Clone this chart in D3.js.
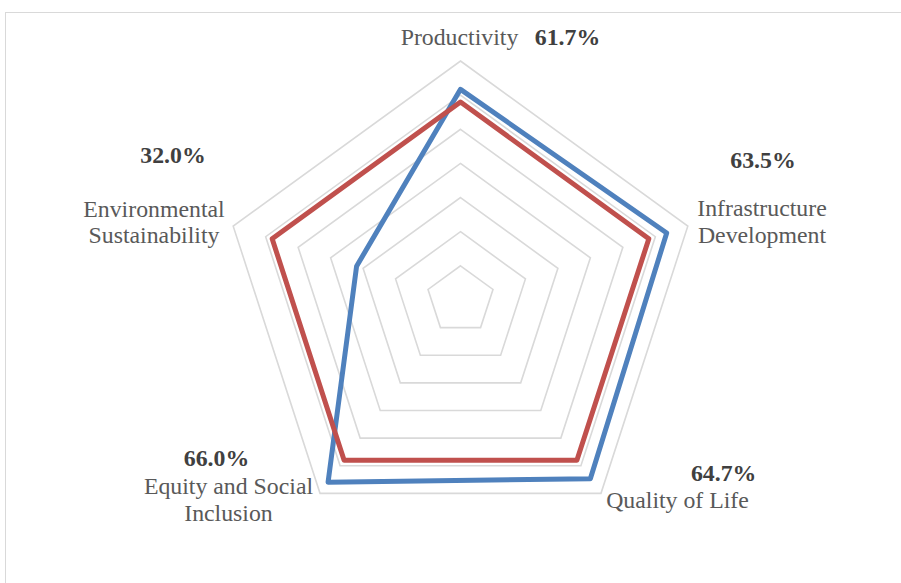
<!DOCTYPE html>
<html>
<head>
<meta charset="utf-8">
<script src="https://cdn.jsdelivr.net/npm/d3@7"></script>
<style>
  html, body { margin: 0; padding: 0; background: #fff; }
  svg { display: block; }
</style>
</head>
<body>
<svg id="chart" width="901" height="583"></svg>
<script>
// ---- data ----
const categories = ["Productivity", "Infrastructure Development", "Quality of Life", "Equity and Social Inclusion", "Environmental Sustainability"];
const seriesBlue = [0.617, 0.635, 0.647, 0.660, 0.320];
const seriesRed  = [0.580, 0.580, 0.580, 0.580, 0.580];
const valueLabels = ["61.7%", "63.5%", "64.7%", "66.0%", "32.0%"];
const gridLevels = [0.1, 0.2, 0.3, 0.4, 0.5, 0.6, 0.7];

// ---- layout ----
const svg = d3.select("#chart");
const cx = 460.5, cy = 300, R = 239;
const rScale = d3.scaleLinear().domain([0, 0.7]).range([0, R]);
const angle = d3.scalePoint().domain(d3.range(categories.length + 1)).range([0, 2 * Math.PI]);

// border
svg.append("rect").attr("x", 5.5).attr("y", 12.5).attr("width", 1000).attr("height", 1000)
  .attr("fill", "none").attr("stroke", "#d9d9d9").attr("stroke-width", 1);

const g = svg.append("g").attr("transform", `translate(${cx},${cy})`);

const radial = d3.lineRadial()
  .angle((d, i) => angle(i))
  .radius(d => rScale(d))
  .curve(d3.curveLinearClosed);

// grid rings
g.selectAll("path.grid").data(gridLevels).enter().append("path")
  .attr("class", "grid")
  .attr("d", lv => radial(categories.map(() => lv)))
  .attr("fill", "none").attr("stroke", "#d9d9d9").attr("stroke-width", 1.6);

// series
const series = [
  { values: seriesBlue, color: "#4F81BD" },
  { values: seriesRed, color: "#C0504D" }
];
g.selectAll("path.series").data(series).enter().append("path")
  .attr("class", "series")
  .attr("d", s => radial(s.values))
  .attr("fill", "none").attr("stroke", s => s.color)
  .attr("stroke-width", 5).attr("stroke-linejoin", "round");

// ---- labels ----
const catLabelPos = [
  { x: 459.5, y: 45, lines: ["Productivity"] },
  { x: 762, y: 216, lines: ["Infrastructure", "Development"] },
  { x: 677.5, y: 508, lines: ["Quality of Life"] },
  { x: 228.5, y: 494, lines: ["Equity and Social", "Inclusion"] },
  { x: 154, y: 217, lines: ["Environmental", "Sustainability"] }
];
const valLabelPos = [
  { x: 567.5, y: 45 },
  { x: 763, y: 168 },
  { x: 723.7, y: 481 },
  { x: 216.5, y: 466 },
  { x: 173, y: 163 }
];
const lineH = [0, 27, 0, 27, 26];
const font = "'Liberation Serif', 'Times New Roman', serif";

catLabelPos.forEach((p, i) => {
  const t = svg.append("text")
    .attr("x", p.x).attr("y", p.y)
    .attr("text-anchor", "middle")
    .attr("font-family", font).attr("font-size", 23.8)
    .attr("fill", "#595959");
  p.lines.forEach((ln, k) => {
    t.append("tspan").attr("x", p.x).attr("dy", k === 0 ? 0 : lineH[i]).text(ln);
  });
});

svg.selectAll("text.val").data(valueLabels).enter().append("text")
  .attr("class", "val")
  .attr("x", (d, i) => valLabelPos[i].x)
  .attr("y", (d, i) => valLabelPos[i].y)
  .attr("text-anchor", "middle")
  .attr("font-family", font).attr("font-size", 23.8).attr("font-weight", "bold")
  .attr("fill", "#404040")
  .text(d => d);
</script>
</body>
</html>
